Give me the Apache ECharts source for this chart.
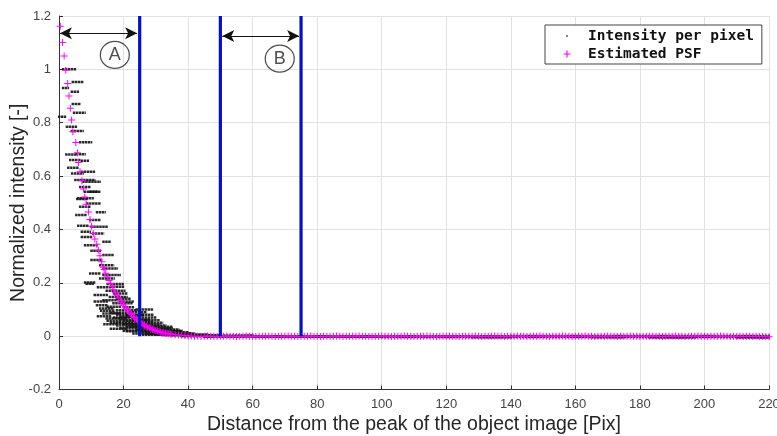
<!DOCTYPE html>
<html>
<head>
<meta charset="utf-8">
<script src="https://cdn.jsdelivr.net/npm/echarts@6/dist/echarts.min.js"></script>
<style>html,body{margin:0;padding:0;background:#fff}#c{width:777px;height:436px}</style>
</head>
<body>
<div id="c"></div>
<script>
// ---- data ----
const xTicks = [0, 220, 20];          // min, max, interval
const yTicks = [-0.2, 1.2, 0.2];

// Estimated PSF: head (explicit pairs)
const psfHead = [
  [0.4,1.162],[1.1,1.101],[1.6,1.05],[2.1,0.997],[2.7,0.947],[3.1,0.9],[3.5,0.854],[3.9,0.81],
  [4.3,0.766],[5.2,0.726],[5.7,0.687],[6.0,0.651],[6.5,0.616],[7.1,0.582],[7.6,0.552],[8.0,0.522],
  [8.4,0.494],[9.1,0.465],[9.6,0.437],[10.1,0.412],[10.6,0.385],[11.1,0.364],[11.7,0.344],
  [12.2,0.322],[12.7,0.301],[13.2,0.279],[13.7,0.258]
];
const psfMid = [
  [14,0.250],[14.5,0.236],[15,0.222],[15.5,0.209],[16,0.197],[16.5,0.185],[17,0.174],[17.5,0.163],
  [18,0.153],[18.5,0.143],[19,0.134],[19.5,0.125],[20,0.117],[20.5,0.109],[21,0.101],[21.5,0.094],
  [22,0.087],[22.5,0.081],[23,0.075],[23.5,0.069],[24,0.063],[24.5,0.058],[25,0.053],[25.5,0.049],
  [26,0.045],[26.5,0.041],[27,0.037],[27.5,0.034],[28,0.031],[28.5,0.028],[29,0.025],[29.5,0.023],
  [30,0.021],[30.5,0.019],[31,0.017],[31.5,0.015],[32,0.013],[32.5,0.012],[33,0.011],[33.5,0.010],
  [34,0.009],[34.5,0.008],[35,0.007],[36,0.005],[37,0.004],[38,0.003],[39,0.002],[40,0.001]
];
// tail: one value per distance 41..220
const psfTailStart = 41;
const psfTail = [
  0.001,0,0,-0.001,0,0.001,0,0,-0.001,0,
  0,0.001,0,0,-0.001,0,0,0.001,0,0,
  -0.001,0,0,0,0.001,0,-0.001,0,0,0,
  0.001,0,0,-0.001,0,0,0,0.001,0,0,
  -0.001,0,0,0,0,0.001,0,-0.001,0,0,
  0,0,0.001,0,0,-0.001,0,0,0,0.001,
  0,0,-0.001,0,0,0,0.001,0,0,-0.001,
  0,0,0,0.001,0,0,-0.001,0,0,0,
  0.001,0,0,-0.001,0,0,0,0,0.001,0,
  -0.001,0,0,0,0.001,0,0,-0.001,0,0,
  0,0.001,0,0,-0.001,0,0,0,0.001,0,
  0,-0.001,0,0,0,0.001,0,0,-0.001,0,
  0,0,0.001,0,0,-0.001,0,0,0,0.001,
  0,0,-0.001,0,0,0,0.001,0,0,-0.001,
  0,0,0,0.001,0,0,-0.001,0,0,0,
  0.001,0,0,-0.001,0,0,0,0.001,0,0,
  -0.001,0,0,0,0.001,0,0,-0.001,0,-0.001,
  0,-0.001,0,0,-0.001,0,-0.001,-0.001,-0.002,-0.002
];

// Intensity per pixel: runs of pixels [distance from, distance to, intensity]
const pixelRuns = [
  [1.2,5,1.0],[4.2,7.4,0.953],[1.2,2.8,0.93],[3.9,5.9,0.916],[4.2,6.5,0.87],[4.6,8,0.837],
  [0,1.9,0.822],[2.4,5.3,0.785],[3.9,7.4,0.769],[6.5,10,0.727],[2.2,5,0.681],[5.5,8,0.682],
  [3.4,6.5,0.66],[7,9,0.657],[2.8,5.9,0.631],[7,11,0.616],[4,7.4,0.61],[5,11,0.585],
  [7.5,12.7,0.579],[6.5,9.6,0.559],[8,11.7,0.541],[9.6,12.7,0.541],[5.9,10.5,0.517],
  [5.6,8.7,0.514],[8.7,12.7,0.497],[6.5,9.6,0.485],[5.3,8.4,0.454],[11.7,14.2,0.464],
  [9.6,12.7,0.435],[5.9,9,0.414],[10,14.9,0.41],[7,9.6,0.391],[7,10,0.372],[10.5,13.7,0.385],
  [13.7,15.8,0.354],[8,11.7,0.341],[10,12.7,0.32],[13.7,16.8,0.304],[10,13.2,0.285],
  [12.7,16.8,0.266],[13.7,18,0.254],[9.6,12.7,0.235],[13.7,18.9,0.229],[12.7,17,0.216],
  [8,11,0.201],[8.5,10.5,0.196],[15,19.8,0.195],[12,15.8,0.183],[14.7,20.3,0.17],[11,14.9,0.154],
  [15.7,21,0.147],[13.7,18.9,0.135],[11.7,14.9,0.116],[16.8,22.5,0.123],[12.7,16.8,0.104],
  [17.9,24,0.0975],[13.7,18.9,0.085],[14.7,20.9,0.066],[19,25,0.072],[17.9,24,0.0475],
  [21,26,0.035],[22,27,0.09],[18,26,0.08],[26,29,0.08],[17,24,0.07],[25,30,0.07],
  [19,27,0.06],[27,31,0.06],[16,23,0.05],[24,32,0.05],[20,28,0.045],[18,26,0.04],
  [26,33,0.04],[22,30,0.035],[30,35,0.035],[19,27,0.03],[27,35,0.03],[24,31,0.025],
  [31,37,0.025],[20,28,0.02],[28,38,0.02],[25,33,0.015],[33,40,0.015],[27,36,0.01],
  [36,42,0.01],[30,40,0.006],[40,46,0.006],[35,45,0.003],[38,48,0.0],
  [11,15,0.13],[15,19,0.11],[13,17,0.095],[16,22,0.088],[12,16,0.075],[20,24,0.058],
  [15,19,0.058],[14,18,0.045],[16,21,0.028],[21,25,0.018],[23,28,0.01],[26,32,0.005],
  [28,38,0.008],[32,44,0.004],[24,29,0.1],[20,23,0.108],[18,22,0.14],[17,21,0.16],
  [16,20,0.185],[19,23,0.13],[21,26,0.078],[23,28,0.062],[25,29,0.054],[27,31,0.044],
  [29,34,0.028],[33,38,0.018],[35,41,0.01],[40,50,0.002],
  [38,60,0.002],[45,100,-0.002],[60,140,0.0],[100,220,-0.003],[140,220,0.001],
  [128,140,-0.004],[165,175,-0.004],[183,197,-0.005],[210,220,-0.005]
];

// Vertical markers and annotations
const markerLines = [25, 50, 75];
const arrows = [
  {from: 0.3, to: 24.2, y: 1.135},
  {from: 50.6, to: 74.4, y: 1.125}
];
const circleLabels = [
  {name: 'A', value: [17.3, 1.054]},
  {name: 'B', value: [68.4, 1.040]}
];

// ---- build ----
const psfData = psfHead.concat(psfMid, psfTail.map((v, i) => [psfTailStart + i, v]));
const plusPath = 'path://M3,0h1v3h3v1h-3v3h-1v-3h-3v-1h3z';
const FONT = 'Liberation Sans, Arial, sans-serif';

const series = [
  {
    name: 'Intensity per pixel',
    type: 'custom',
    data: pixelRuns,
    encode: {x: [0, 1], y: 2},
    z: 2,
    renderItem: function (params, api) {
      const p0 = api.coord([api.value(0), api.value(2)]);
      const p1 = api.coord([api.value(1), api.value(2)]);
      return {
        type: 'line',
        shape: {x1: p0[0] - 1, y1: p0[1], x2: p1[0] + 1, y2: p1[1]},
        style: {stroke: '#141414', lineWidth: 2.5, lineDash: [2.5, 0.5], opacity: 0.9}
      };
    },
    itemStyle: {color: '#222'}
  },
  {
    name: 'Estimated PSF',
    type: 'scatter',
    data: psfData,
    symbol: plusPath,
    symbolSize: 7,
    itemStyle: {color: '#ff00ff', opacity: 1},
    z: 3,
    silent: true
  }
];
markerLines.forEach(x => {
  series.push({
    type: 'line', data: [[x, 0], [x, 1.2]], symbol: 'none', z: 4,
    lineStyle: {color: '#0010cc', width: 3.2}, silent: true
  });
});
series.push({
  type: 'line', data: [], z: 5, silent: true,
  markLine: {
    silent: true,
    symbol: ['arrow', 'arrow'],
    symbolSize: [9, 12],
    label: {show: false},
    lineStyle: {color: '#111', width: 1.2, type: 'solid'},
    data: arrows.map(a => [{coord: [a.from, a.y]}, {coord: [a.to, a.y]}])
  }
});
series.push({
  type: 'scatter', z: 6, silent: true,
  data: circleLabels,
  symbol: 'circle', symbolSize: [29, 27],
  itemStyle: {color: 'rgba(255,255,255,0)', borderColor: '#222', borderWidth: 1.2},
  label: {show: true, position: 'inside', formatter: p => p.name, fontSize: 18,
          fontFamily: FONT, color: '#222'}
});

const chart = echarts.init(document.getElementById('c'), null, {renderer: 'canvas'});
chart.setOption({
  animation: false,
  backgroundColor: '#fff',
  grid: {left: 59, right: 8, top: 16, bottom: 46.5, containLabel: false, outerBoundsMode: 'none'},
  xAxis: {
    type: 'value', min: xTicks[0], max: xTicks[1], interval: xTicks[2],
    name: 'Distance from the peak of the object image [Pix]',
    nameLocation: 'middle', nameGap: 25, nameMoveOverlap: false,
    nameTextStyle: {fontSize: 19.5, color: '#262626', fontFamily: FONT},
    axisLine: {onZero: false, lineStyle: {color: '#333', width: 1}},
    axisTick: {inside: true, length: 4, lineStyle: {color: '#333'}},
    axisLabel: {fontSize: 13, color: '#444', margin: 8, fontFamily: FONT},
    splitLine: {show: true, lineStyle: {color: '#e2e2e2', width: 1}}
  },
  yAxis: {
    type: 'value', min: yTicks[0], max: yTicks[1], interval: yTicks[2],
    name: 'Normalized intensity [-]',
    nameLocation: 'middle', nameGap: 30, nameMoveOverlap: false,
    nameTextStyle: {fontSize: 19.5, color: '#262626', fontFamily: FONT},
    axisLine: {show: true, onZero: false, lineStyle: {color: '#333', width: 1}},
    axisTick: {show: true, inside: true, length: 4, lineStyle: {color: '#333'}},
    axisLabel: {fontSize: 13, color: '#444', margin: 8, fontFamily: FONT,
                formatter: v => String(Math.round(v * 10) / 10)},
    splitLine: {show: true, lineStyle: {color: '#e2e2e2', width: 1}}
  },
  legend: {
    orient: 'vertical', left: 545, top: 25,
    padding: [3, 8, 2, 12],
    itemWidth: 26, itemHeight: 10, itemGap: 2,
    backgroundColor: '#fff', borderColor: '#444', borderWidth: 1, borderRadius: 0,
    textStyle: {fontFamily: 'DejaVu Sans Mono', fontWeight: 'bold', fontSize: 14.5, color: '#111', lineHeight: 16},
    selectedMode: false,
    data: [
      {name: 'Intensity per pixel', icon: 'path://M0,0M26,10M9.2,4.2h1.6v1.6h-1.6z', itemStyle: {color: '#333'}},
      {name: 'Estimated PSF', icon: 'path://M0,0M26,10M9.4,1.5h1.2v2.9h2.9v1.2h-2.9v2.9h-1.2v-2.9h-2.9v-1.2h2.9z', itemStyle: {color: '#ff00ff'}}
    ]
  },
  series: series
});
</script>
</body>
</html>
